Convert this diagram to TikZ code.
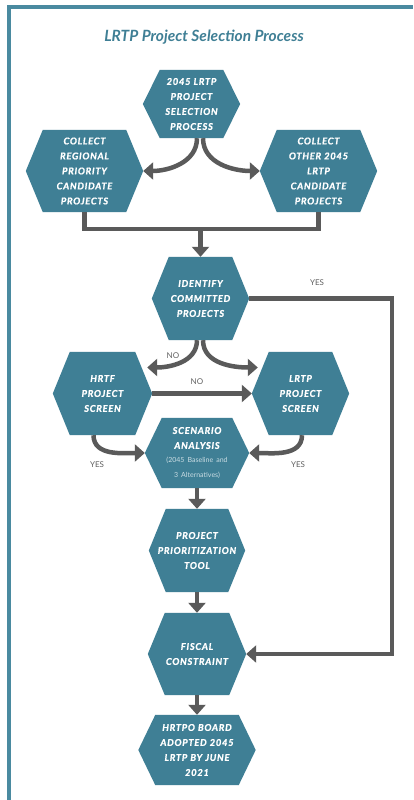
\documentclass[tikz,border=0pt]{standalone}
\usepackage{fontspec}
\setmainfont{Lato}
\newfontfamily\hexfont{Lato}[LetterSpace=8,FakeBold=1.2]
\usetikzlibrary{arrows.meta,backgrounds,calc}
\definecolor{hexcol}{HTML}{3F7F95}
\definecolor{framecol}{HTML}{4A8AA0}
\definecolor{titlecol}{HTML}{3F7F95}
\definecolor{arrcol}{HTML}{5A5A5A}
\definecolor{lblcol}{HTML}{606060}
\definecolor{smallcol}{HTML}{C9DCE3}
\newcommand\drawhexagon[1]{%
  \fill[hexcol] (#1.west) -- ([xshift=17pt]#1.north west) -- ([xshift=-17pt]#1.north east)
    -- (#1.east) -- ([xshift=-17pt]#1.south east) -- ([xshift=17pt]#1.south west) -- cycle;}
\newcommand\smallfnt{\normalfont\color{smallcol}\fontsize{7}{14}\selectfont}
\tikzset{
  hexnode/.style 2 args={rectangle, inner sep=0pt, text width=#1, minimum height=#2,
    align=center, text=white, font=\hexfont\bfseries\itshape\fontsize{9.3}{15}\selectfont},
  conn/.style={draw=arrcol, line width=4.5pt},
  arr/.style={conn, -{Triangle[length=10pt,width=17pt]}},
  lbl/.style={text=lblcol, font=\fontsize{8}{9}\selectfont, inner sep=0pt},
  frame/.style={draw=framecol, line width=4pt},
  titlestyle/.style={text=titlecol, font=\bfseries\itshape\fontsize{15.5}{18}\selectfont},
}
\begin{document}
\begin{tikzpicture}[x=1pt,y=-1pt]
\useasboundingbox (0,0) rectangle (413,800);
% frame
\draw[frame] (8.5,800) -- (8.5,7) -- (413,7);
% title
\node[titlestyle] (title) at (204,37) {LRTP Project Selection Process};
% hexagon nodes
\node[hexnode={97pt}{68pt}] (top) at (191.5,104) {2045 LRTP\\PROJECT\\SELECTION\\PROCESS};
\node[hexnode={117pt}{82pt}] (reg) at (84.5,171) {COLLECT\\REGIONAL\\PRIORITY\\CANDIDATE\\PROJECTS};
\node[hexnode={117pt}{82pt}] (oth) at (318.5,171) {COLLECT\\OTHER 2045\\LRTP\\CANDIDATE\\PROJECTS};
\node[hexnode={97pt}{83pt}] (idf) at (200.5,298.5) {IDENTIFY\\COMMITTED\\PROJECTS};
\node[hexnode={99pt}{83pt}] (hrtf) at (102.5,393.5) {HRTF\\PROJECT\\SCREEN};
\node[hexnode={97pt}{83pt}] (lrtp) at (300.5,393.5) {LRTP\\PROJECT\\SCREEN};
\node[hexnode={104pt}{70pt}] (scen) at (197,453) {SCENARIO\\ANALYSIS\\\smallfnt (2045 Baseline and\\3 Alternatives)};
\node[hexnode={96pt}{83pt}] (ppt) at (197,550.5) {PROJECT\\PRIORITIZATION\\TOOL};
\node[hexnode={98pt}{82pt}] (fis) at (197,654) {FISCAL\\CONSTRAINT};
\node[hexnode={117pt}{70pt}] (brd) at (197,750) {HRTPO BOARD\\ADOPTED 2045\\LRTP BY JUNE\\2021};
% labels
\node[lbl] (ly1) at (317,283) {YES};
\node[lbl] (ln1) at (173,356) {NO};
\node[lbl] (ln2) at (197,382) {NO};
\node[lbl] (ly2) at (97,465) {YES};
\node[lbl] (ly3) at (298,465) {YES};
% connectors
\draw[arr] ([xshift=5.5pt]top.south) to[out=-90,in=0] (reg.east);
\draw[arr] ([xshift=11.5pt]top.south) to[out=-90,in=180] (oth.west);
\coordinate (mrg) at (200.5,229);
\draw[conn] (reg.south) |- (mrg) -| (oth.south);
\draw[arr] (mrg) -- (idf.north);
\draw[arr] ([xshift=-3.5pt]idf.south) to[out=-90,in=0] ([xshift=-5pt,yshift=26pt]hrtf.east);
\draw[arr] ([xshift=2.5pt]idf.south) to[out=-90,in=180] ([xshift=6pt,yshift=26pt]lrtp.west);
\draw[arr] (hrtf.east) -- (lrtp.west);
\draw[arr] ([xshift=-9pt]hrtf.south) to[out=-90,in=180] (scen.west);
\draw[arr] ([xshift=1.5pt]lrtp.south) to[out=-90,in=0] (scen.east);
\draw[arr] (scen.south) -- (ppt.north);
\draw[arr] (ppt.south) -- (fis.north);
\draw[arr] (fis.south) -- (brd.north);
\coordinate (ycol) at (392,0);
\draw[arr] (idf.east) -- (idf.east -| ycol) -- (fis.east -| ycol) -- (fis.east);
% hexagon shapes behind text
\begin{scope}[on background layer]
\fill[white] (0,0) rectangle (413,800);
\drawhexagon{top}
\drawhexagon{reg}
\drawhexagon{oth}
\drawhexagon{idf}
\drawhexagon{hrtf}
\drawhexagon{lrtp}
\drawhexagon{scen}
\drawhexagon{ppt}
\drawhexagon{fis}
\drawhexagon{brd}
\end{scope}
\end{tikzpicture}
\end{document}
